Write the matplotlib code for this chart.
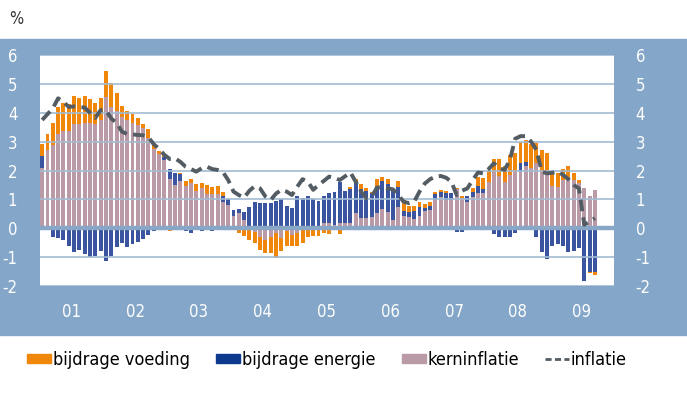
import numpy as np
import matplotlib; matplotlib.use("Agg")
import matplotlib.pyplot as plt
from matplotlib import font_manager
from matplotlib.patches import Patch, Rectangle
from matplotlib.lines import Line2D

names = {f.name for f in font_manager.fontManager.ttflist}
FONT = "Liberation Sans Narrow" if "Liberation Sans Narrow" in names else "DejaVu Sans"
plt.rcParams['font.family'] = [FONT, 'DejaVu Sans']
plt.rcParams['font.stretch'] = 'condensed'
plt.rcParams['axes.unicode_minus'] = False

# maandelijks jan 2001 - sep 2009
kern = [2.10, 2.70, 2.88, 3.26, 3.36, 3.37, 3.60, 3.60, 3.63, 3.63, 3.62, 3.74,
        4.54, 4.20, 4.06, 3.84, 3.74, 3.66, 3.56, 3.46, 3.12, 2.73, 2.56, 2.36,
        1.70, 1.50, 1.65, 1.46, 1.56, 1.29, 1.38, 1.19, 1.19, 1.20, 0.92, 0.81,
        0.44, 0.54, 0.27, 0.06, -0.12, -0.30, -0.40, -0.30, -0.15, -0.35, -0.10, -0.25,
        -0.15, -0.05, 0.00, 0.00, 0.06, 0.17, 0.17, 0.10, 0.17, 0.17, 0.17, 0.54,
        0.35, 0.37, 0.38, 0.54, 0.66, 0.58, 0.29, 0.73, 0.44, 0.38, 0.31, 0.43,
        0.61, 0.64, 0.98, 1.07, 0.98, 0.98, 1.35, 1.06, 0.92, 1.07, 1.23, 1.23,
        1.59, 1.94, 1.81, 1.59, 1.85, 1.94, 1.96, 2.15, 2.09, 2.25, 1.96, 1.90,
        1.48, 1.44, 1.67, 1.76, 1.67, 1.56, 1.38, 1.10, 1.33]
energie = [0.40, 0.00, -0.29, -0.35, -0.40, -0.63, -0.81, -0.77, -0.89, -0.98, -0.96, -0.78,
           -1.12, -0.96, -0.66, -0.52, -0.66, -0.54, -0.48, -0.38, -0.23, -0.08, 0.00, 0.10,
           0.36, 0.41, 0.23, -0.09, -0.18, 0.00, -0.09, 0.00, -0.09, 0.00, 0.18, 0.20,
           0.20, 0.14, 0.30, 0.67, 0.91, 0.89, 0.89, 0.89, 0.95, 1.01, 0.77, 0.69,
           1.10, 1.04, 1.10, 1.01, 0.90, 0.95, 1.06, 1.16, 1.42, 1.13, 1.18, 1.11,
           1.01, 0.93, 0.83, 0.94, 0.99, 0.95, 1.07, 0.69, 0.16, 0.20, 0.29, 0.30,
           0.08, 0.14, 0.21, 0.18, 0.25, 0.25, -0.14, -0.14, 0.18, 0.18, 0.24, 0.12,
           0.00, -0.21, -0.32, -0.29, -0.31, -0.17, 0.29, 0.16, 0.00, -0.32, -0.83, -1.08,
           -0.61, -0.54, -0.63, -0.81, -0.78, -0.69, -1.84, -1.50, -1.50]
voeding = [0.42, 0.56, 0.76, 0.93, 0.97, 0.92, 0.98, 0.92, 0.96, 0.86, 0.73, 0.77,
           0.90, 0.84, 0.61, 0.40, 0.32, 0.30, 0.27, 0.16, 0.32, 0.18, 0.13, 0.09,
           -0.10, 0.00, 0.05, 0.18, 0.16, 0.23, 0.18, 0.30, 0.25, 0.25, 0.17, 0.00,
           0.00, -0.15, -0.27, -0.40, -0.38, -0.45, -0.44, -0.54, -0.89, -0.43, -0.50, -0.35,
           -0.46, -0.45, -0.30, -0.27, -0.28, -0.17, -0.21, 0.00, -0.20, -0.05, 0.07, 0.06,
           0.16, 0.08, 0.06, 0.22, 0.12, 0.18, 0.00, 0.22, 0.38, 0.20, 0.18, 0.19,
           0.14, 0.12, 0.06, 0.08, 0.06, 0.00, 0.05, 0.04, 0.00, 0.16, 0.29, 0.38,
           0.40, 0.45, 0.58, 0.57, 0.69, 0.68, 0.75, 0.75, 0.82, 0.69, 0.75, 0.70,
           0.43, 0.47, 0.38, 0.41, 0.25, 0.11, 0.00, -0.06, -0.11]
inflatie = [3.75, 3.95, 4.15, 4.50, 4.38, 4.20, 4.22, 4.20, 4.18, 4.00, 3.82, 4.09,
            4.09, 3.80, 3.65, 3.35, 3.26, 3.25, 3.23, 3.22, 3.15, 2.91, 2.75, 2.54,
            2.40, 2.42, 2.30, 2.13, 2.05, 1.96, 2.08, 2.13, 2.05, 2.02, 1.95, 1.67,
            1.27, 1.15, 1.06, 1.30, 1.46, 1.38, 1.10, 0.98, 1.20, 1.33, 1.27, 1.15,
            1.44, 1.70, 1.61, 1.33, 1.50, 1.64, 1.79, 1.75, 1.67, 1.80, 1.93, 1.61,
            1.27, 1.04, 1.10, 1.41, 1.42, 1.38, 1.35, 1.15, 0.92, 0.87, 0.92, 1.27,
            1.55, 1.70, 1.79, 1.81, 1.75, 1.61, 1.15, 1.30, 1.38, 1.67, 1.93, 1.90,
            2.05, 2.25, 2.08, 2.02, 2.36, 3.10, 3.19, 3.19, 3.00, 2.71, 1.96, 1.90,
            1.92, 1.96, 1.85, 1.70, 1.50, 1.38, 0.12, 0.23, 0.35]
jaren = ['01', '02', '03', '04', '05', '06', '07', '08', '09']
yticks = [-2, -1, 0, 1, 2, 3, 4, 5, 6]

FRAME = '#84a6c8'
C_VOED, C_ENER, C_KERN, C_LINE = '#f0870a', '#3a54a0', '#bb9aa8', '#525c62'

fig = plt.figure(figsize=(6.87, 4.07), dpi=100)
fig.patches.append(Rectangle((0, 72/407), 1, 296/407, transform=fig.transFigure,
                             color=FRAME, zorder=-10))
ax = fig.add_axes([39.5/687, 121/407, 574/687, 231/407])
ax.set_facecolor('white')

x = np.arange(len(kern))
pos = np.zeros(len(x)); neg = np.zeros(len(x))
for vals, col in ((kern, C_KERN), (energie, C_ENER), (voeding, C_VOED)):
    v = np.array(vals)
    bottom = np.where(v >= 0, pos, neg)
    ax.bar(x, v, width=0.74, bottom=bottom, color=col, zorder=2, linewidth=0)
    pos = pos + np.clip(v, 0, None); neg = neg + np.clip(v, None, 0)

for g in yticks:
    if g == 0: continue
    ax.axhline(g, color='#a3bbd3', lw=1.2, zorder=3)
ax.axhline(0, color='#88a7c7', lw=3.2, zorder=3)
ax.plot(x, inflatie, color=C_LINE, lw=2.8, dashes=(3, 1.6), zorder=4)

ax.set_xlim(-0.5, 107.5); ax.set_ylim(-2, 6)
ax.set_xticks([5.5 + 12*k for k in range(len(jaren))])
ax.set_xticklabels(jaren)
ax.set_yticks(yticks)
ax.set_yticklabels([str(t) for t in yticks])
ax.tick_params(axis='x', length=0, pad=12, labelsize=12, colors='white')
ax.tick_params(axis='y', length=0, pad=16, labelsize=12, colors='white',
               labelleft=True, labelright=True)
for s in ax.spines.values(): s.set_visible(False)

fig.text(9/687, 1 - 19/407, '%', fontsize=12, color='#333333', va='center')

handles = [Patch(color=C_VOED), Patch(color='#0d3a8c'), Patch(color=C_KERN),
           Line2D([], [], color=C_LINE, lw=2, dashes=(2.2, 1.2))]
labels = ['bijdrage voeding', 'bijdrage energie', 'kerninflatie', 'inflatie']
fig.legend(handles, labels, loc='center left', bbox_to_anchor=(27/687, 1 - 360/407),
           ncol=4, frameon=False, fontsize=13, handlelength=1.33, handleheight=0.45,
           handletextpad=0.1, columnspacing=1.45, borderaxespad=0, borderpad=0)

fig.savefig('out.png', dpi=100)
